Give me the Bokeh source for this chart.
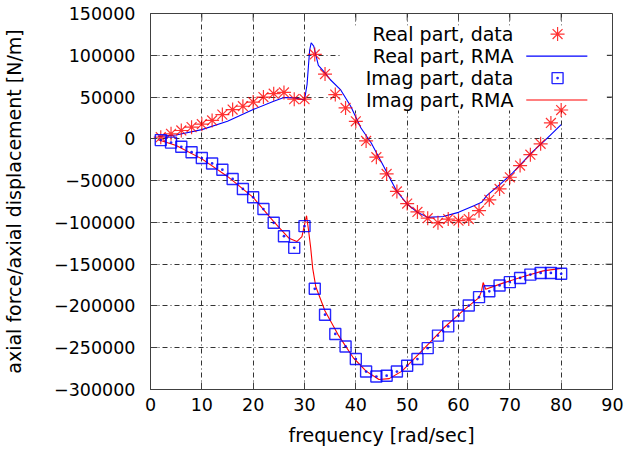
from bokeh.plotting import figure
from bokeh.models import Range1d, FixedTicker, BasicTickFormatter, Label
from bokeh.embed import file_html
from bokeh.resources import INLINE

# ---- data ----
freq_data = [2, 4, 6, 8, 10, 12, 14, 16, 18, 20, 22, 24, 26, 28, 30, 32, 34, 36, 38, 40,
             42, 44, 46, 48, 50, 52, 54, 56, 58, 60, 62, 64, 66, 68, 70, 72, 74, 76, 78, 80]
real_data = [2000, 6000, 10000, 14000, 17500, 22000, 29000, 35000, 39000, 44000,
             50000, 54000, 55500, 47500, 47500, 101000, 77500, 53000, 37000, 21000,
             -2500, -22000, -42000, -63000, -77500, -87500, -95000, -100500, -96000, -98000,
             -96000, -86000, -73000, -60000, -46000, -32000, -19000, -6000, 19000, 34500]
imag_data = [-1500, -4500, -9500, -16000, -23000, -29500, -37000, -48000, -60000, -70000,
             -84000, -100500, -116500, -130500, -104500, -179500, -210500, -233500, -248500, -263500,
             -278500, -284500, -283500, -278500, -271500, -263500, -250500, -235500, -224500, -211500,
             -199500, -189500, -182500, -175500, -171500, -166500, -162500, -160500, -160500, -161500]

freq_real_rma = [1.5, 5, 10, 15, 20, 24, 26, 28, 30, 30.5, 31, 31.3, 31.8, 32.7, 34, 35, 37, 39, 41,
                 43, 45, 48, 50, 52, 54, 57, 60, 63, 64.5, 65.5, 68, 70.5, 74.5, 77, 80]
real_rma = [3000, 4500, 11000, 21000, 35000, 45000, 49500, 49000, 46500, 65000, 106000, 115000,
            111000, 88000, 79000, 71000, 59000, 39000, 13000, -5000, -28000, -63000, -78000,
            -88000, -94000, -93000, -88000, -80000, -76000, -68000, -55000, -41000, -15000, -1000, 17000]

freq_imag_rma = [1.5, 5, 10, 15, 20, 24, 27, 28.5, 29.5, 30.1, 30.4, 30.8, 31.2, 31.6, 32.2, 34,
                 36.5, 39.5, 42, 44.5, 46.5, 49, 53, 57, 61, 64, 64.5, 64.8, 65.3, 68.5, 72.5, 76.5, 80]
imag_rma = [-1000, -8000, -24000, -45000, -70000, -99000, -119000, -123000, -117000, -100000,
            -92000, -110000, -130000, -155000, -177000, -206000, -234000, -262000, -278000,
            -288000, -287000, -278000, -253000, -227000, -205000, -190000, -182000, -172000,
            -180000, -173000, -165000, -158000, -155000]

x_ticks = [0, 10, 20, 30, 40, 50, 60, 70, 80, 90]
y_ticks = [-300000, -250000, -200000, -150000, -100000, -50000, 0, 50000, 100000, 150000]

series_labels = ["Real part, data", "Real part, RMA", "Imag part, data", "Imag part, RMA"]

FONT = "DejaVu Sans"
AX = "#404040"
X0, X1, Y0, Y1 = 0, 90, -300000, 150000

p = figure(width=630, height=461, output_backend="svg", toolbar_location=None,
           x_range=Range1d(X0, X1), y_range=Range1d(Y0, Y1),
           min_border_left=146, min_border_right=18, min_border_top=13, min_border_bottom=72,
           background_fill_color="white", border_fill_color="white")
p.outline_line_color = AX
p.outline_line_width = 1

p.xaxis.ticker = FixedTicker(ticks=x_ticks)
p.yaxis.ticker = FixedTicker(ticks=y_ticks)
p.yaxis.formatter = BasicTickFormatter(use_scientific=False)
for ax in (p.xaxis[0], p.yaxis[0]):
    ax.major_tick_in = 7
    ax.major_tick_out = 0
    ax.minor_tick_line_color = None
    ax.axis_line_color = AX
    ax.major_tick_line_color = AX
    ax.major_label_text_font = FONT
    ax.major_label_text_font_size = "17.5px"
    ax.major_label_text_color = "black"
    ax.axis_label_text_font = FONT
    ax.axis_label_text_font_size = "19px"
    ax.axis_label_text_font_style = "normal"
    ax.axis_label_text_color = "black"
p.xaxis.axis_label = "frequency [rad/sec]"
p.yaxis.axis_label = "axial force/axial displacement [N/m]"
p.xaxis.major_label_standoff = 8
p.xaxis.axis_label_standoff = 10
p.yaxis.major_label_standoff = 15
p.yaxis.axis_label_standoff = 26

for g in (p.xgrid[0], p.ygrid[0]):
    g.grid_line_color = "#333333"
    g.grid_line_dash = "5 3 1 3"
    g.grid_line_width = 1
p.xgrid.ticker = FixedTicker(ticks=x_ticks)
p.ygrid.ticker = FixedTicker(ticks=y_ticks)

# mirror ticks on the top and right borders (7 px inward)
tick_dx = 7 * (X1 - X0) / 466.0
tick_dy = 7 * (Y1 - Y0) / 376.0
p.segment(x0=[X1] * len(y_ticks), y0=y_ticks, x1=[X1 - tick_dx] * len(y_ticks), y1=y_ticks,
          line_color=AX, line_width=1)
p.segment(x0=x_ticks, y0=[Y1] * len(x_ticks), x1=x_ticks, y1=[Y1 - tick_dy] * len(x_ticks),
          line_color=AX, line_width=1)

# key background (opaque, hides the grid behind the key text)
p.quad(left=[37.0], right=[88.9], bottom=[34000], top=[136000],
       fill_color="white", line_color=None)

# data
p.line(freq_real_rma, real_rma, line_color="#0000ff", line_width=1.1)
p.line(freq_imag_rma, imag_rma, line_color="#ff0000", line_width=1.1)
p.scatter(freq_data, real_data, marker="asterisk", size=14, line_color="#ff0000",
          line_width=1.2, line_alpha=0.8)
p.scatter(freq_data, imag_data, marker="square_dot", size=11, line_color="#0000ff",
          fill_color=None, line_width=1.4, line_alpha=0.85)

# key
key_y = [125400, 99000, 72700, 46400]
for lab, ky in zip(series_labels, key_y):
    p.add_layout(Label(x=70.7, y=ky, text=lab, text_align="right", text_baseline="middle",
                       text_font=FONT, text_font_size="19px", text_color="black"))
p.scatter([79.3], [key_y[0]], marker="asterisk", size=14, line_color="#ff0000", line_width=1.2,
          line_alpha=0.8)
p.line([73.2, 85.1], [key_y[1], key_y[1]], line_color="#0000ff", line_width=1.1)
p.scatter([79.3], [key_y[2]], marker="square_dot", size=11, line_color="#0000ff",
          fill_color=None, line_width=1.4, line_alpha=0.85)
p.line([73.2, 85.1], [key_y[3], key_y[3]], line_color="#ff0000", line_width=1.1)

open("out.html", "w").write(file_html(p, INLINE))
